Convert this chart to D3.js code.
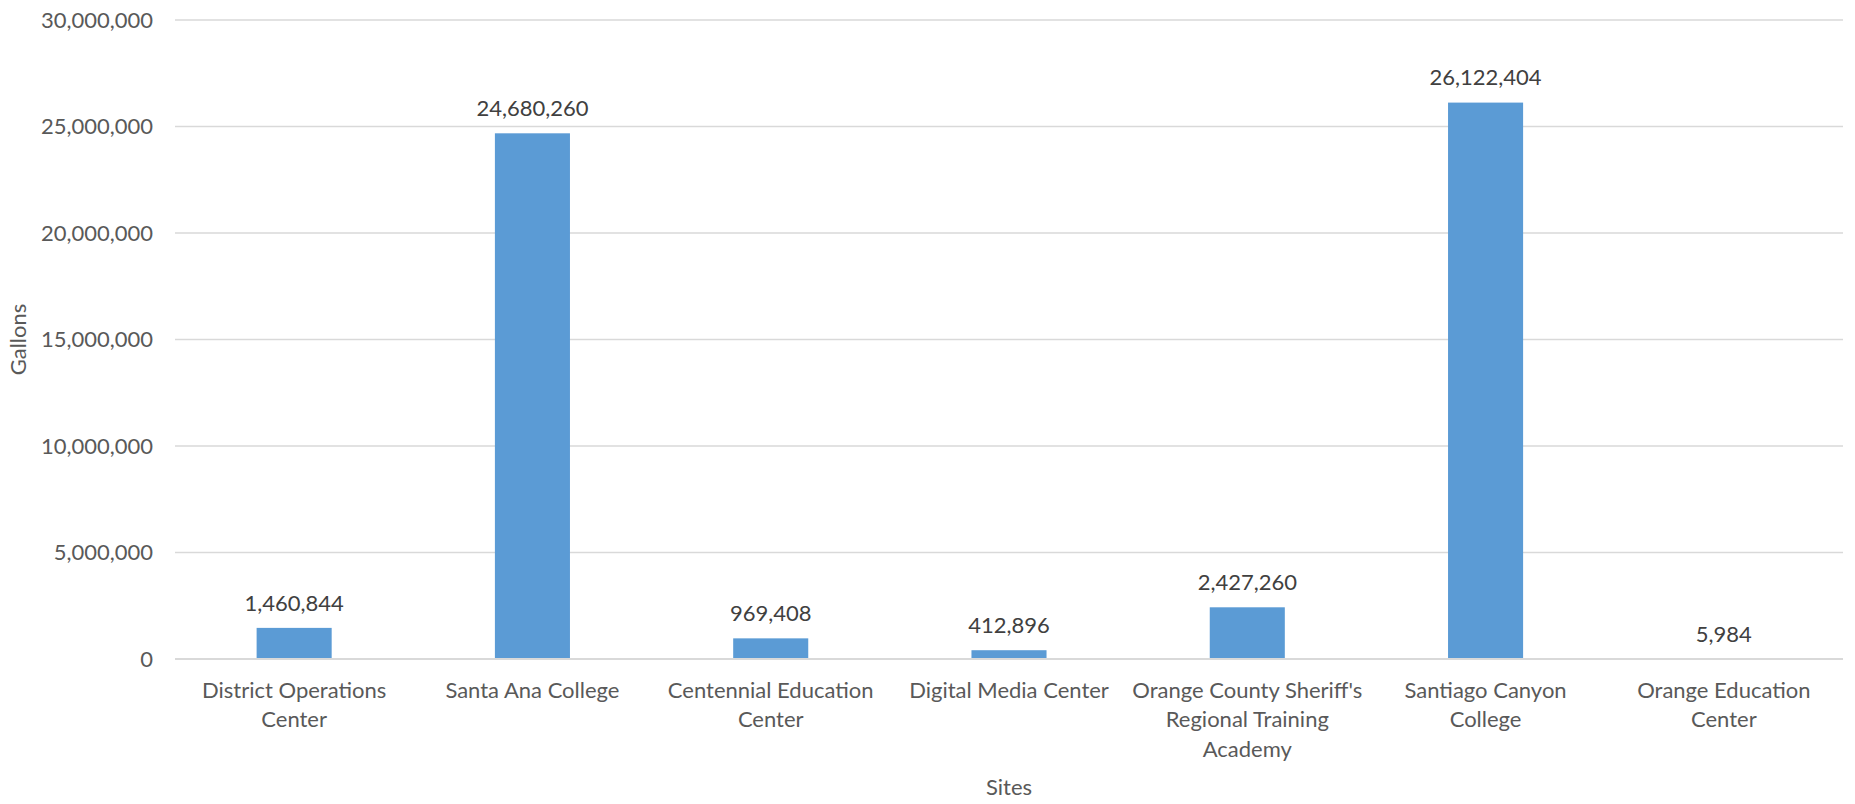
<!DOCTYPE html>
<html><head><meta charset="utf-8">
<script src="https://cdn.jsdelivr.net/npm/d3@7"></script>
<style>html,body{margin:0;padding:0;background:#fff;}svg{display:block;}</style>
</head><body>
<svg id="chart" width="1855" height="804"></svg>
<script>
const categories = ["District Operations Center","Santa Ana College","Centennial Education Center","Digital Media Center","Orange County Sheriff's Regional Training Academy","Santiago Canyon College","Orange Education Center"];
const categoryLines = [["District Operations","Center"],["Santa Ana College"],["Centennial Education","Center"],["Digital Media Center"],["Orange County Sheriff's","Regional Training","Academy"],["Santiago Canyon","College"],["Orange Education","Center"]];
const gallons = [1460844,24680260,969408,412896,2427260,26122404,5984];
const yTicks = [0,5000000,10000000,15000000,20000000,25000000,30000000];
const yTitle = "Gallons";
const xTitle = "Sites";

(function () {
const svg = d3.select("#chart");
const font = "Lato, 'Open Sans', sans-serif";
const fs = 22;
const pLeft = 175, pRight = 1843, pTop = 20, pBottom = 659;

const x = d3.scaleBand().domain(categories).range([pLeft, pRight]).paddingInner(0.685).paddingOuter(0.3425);
const y = d3.scaleLinear().domain([0, 30000000]).range([pBottom, pTop]);
const fmt = d3.format(",");

svg.append("g").selectAll("line").data(yTicks.filter(d => d > 0)).join("line")
  .attr("x1", pLeft).attr("x2", pRight)
  .attr("y1", d => y(d)).attr("y2", d => y(d))
  .attr("stroke", "#D9D9D9").attr("stroke-width", 1.3);

const yAxis = d3.axisLeft(y).tickValues(yTicks).tickFormat(fmt).tickSize(0).tickPadding(0);
const ya = svg.append("g").attr("transform", `translate(${pLeft - 22},0)`).call(yAxis);
ya.select(".domain").remove();
ya.selectAll("text").attr("font-family", font).attr("font-size", fs).attr("fill", "#595959");

svg.append("g").selectAll("rect").data(gallons).join("rect")
  .attr("x", (d, i) => x(categories[i]))
  .attr("width", x.bandwidth())
  .attr("y", d => y(d))
  .attr("height", d => y(0) - y(d))
  .attr("fill", "#5B9BD5");

svg.append("line").attr("x1", pLeft).attr("x2", pRight).attr("y1", y(0)).attr("y2", y(0))
  .attr("stroke", "#D9D9D9").attr("stroke-width", 2);

svg.append("g").selectAll("text").data(gallons).join("text")
  .attr("x", (d, i) => x(categories[i]) + x.bandwidth() / 2)
  .attr("y", d => y(d) - 25)
  .attr("dy", "0.35em")
  .attr("text-anchor", "middle")
  .attr("font-family", font).attr("font-size", fs).attr("fill", "#404040")
  .text(d => fmt(d));

const xAxis = d3.axisBottom(x).tickSize(0).tickFormat("");
const xa = svg.append("g").attr("transform", `translate(0,${pBottom})`).call(xAxis);
xa.select(".domain").remove();
xa.selectAll(".tick").each(function(d, i) {
  const t = d3.select(this).append("text")
    .attr("text-anchor", "middle")
    .attr("font-family", font).attr("font-size", fs).attr("fill", "#595959");
  categoryLines[i].forEach((line, j) => {
    t.append("tspan").attr("x", 0).attr("y", 31 + j * 29.5).attr("dy", "0.35em").text(line);
  });
});

svg.append("text").attr("transform", `translate(18,${(pTop + pBottom) / 2}) rotate(-90)`)
  .attr("text-anchor", "middle").attr("dy", "0.35em")
  .attr("font-family", font).attr("font-size", fs).attr("fill", "#595959").text(yTitle);
svg.append("text").attr("x", (pLeft + pRight) / 2).attr("y", 787).attr("dy", "0.35em")
  .attr("text-anchor", "middle")
  .attr("font-family", font).attr("font-size", fs).attr("fill", "#595959").text(xTitle);
})();
</script>
</body></html>
